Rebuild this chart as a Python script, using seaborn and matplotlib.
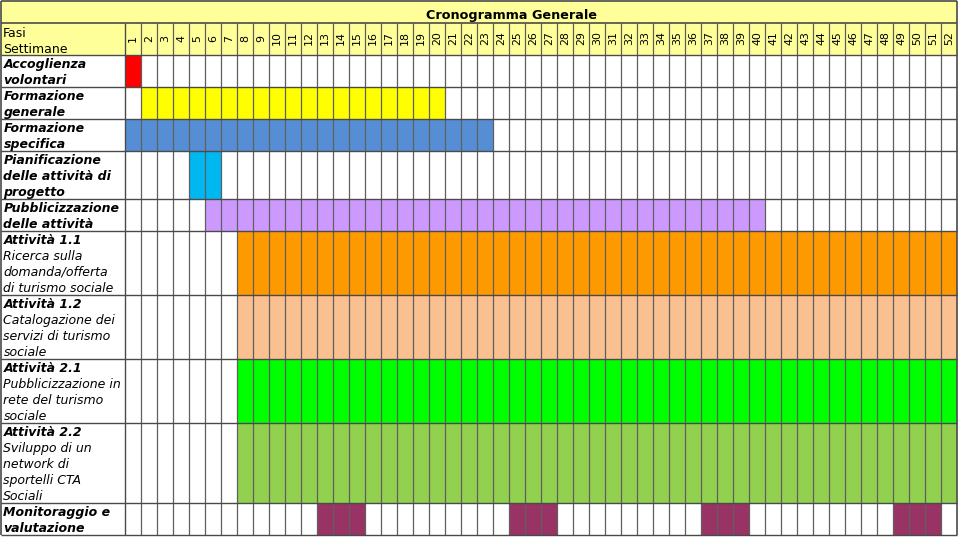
import numpy as np
import matplotlib.pyplot as plt
import seaborn as sns
from matplotlib.colors import ListedColormap
from matplotlib.patches import Rectangle

# ------------------------------------------------------------
# DATA
# ------------------------------------------------------------
chart_title = "Cronogramma Generale"
header_label = ["Fasi", "Settimane"]
weeks = list(range(1, 53))

task_titles = [
    "Accoglienza\nvolontari",
    "Formazione\ngenerale",
    "Formazione\nspecifica",
    "Pianificazione\ndelle attività di\nprogetto",
    "Pubblicizzazione\ndelle attività",
    "Attività 1.1",
    "Attività 1.2",
    "Attività 2.1",
    "Attività 2.2",
    "Monitoraggio e\nvalutazione",
]
task_notes = [
    "", "", "", "", "",
    "Ricerca sulla\ndomanda/offerta\ndi turismo sociale",
    "Catalogazione dei\nservizi di turismo\nsociale",
    "Pubblicizzazione in\nrete del turismo\nsociale",
    "Sviluppo di un\nnetwork di\nsportelli CTA\nSociali",
    "",
]
# (first week, last week) of each active stretch
task_spans = [
    [(1, 1)],
    [(2, 20)],
    [(1, 23)],
    [(5, 6)],
    [(6, 40)],
    [(8, 52)],
    [(8, 52)],
    [(8, 52)],
    [(8, 52)],
    [(13, 15), (25, 27), (37, 39), (49, 51)],
]
task_colors = [
    "#FF0000", "#FFFF00", "#558ED5", "#00B8F0", "#CC99FF",
    "#FF9900", "#FAC090", "#00FF00", "#92D050", "#993366",
]

# ------------------------------------------------------------
# BUILD MATRIX (one matrix row per text line of the label column)
# ------------------------------------------------------------
line_counts = []
for t, n in zip(task_titles, task_notes):
    line_counts.append(len(t.split("\n")) + (len(n.split("\n")) if n else 0))
n_lines = sum(line_counts)

matrix = np.zeros((n_lines, len(weeks)))
row = 0
for k, (spans, nl) in enumerate(zip(task_spans, line_counts)):
    for a, b in spans:
        matrix[row:row + nl, a - 1:b] = k + 1
    row += nl

cmap = ListedColormap(["white"] + task_colors)

# ------------------------------------------------------------
# PLOT
# ------------------------------------------------------------
W, H = 960, 538
cell = 16.0
grid_left, grid_top = 125, 55

fig = plt.figure(figsize=(W / 100, H / 100), dpi=100)
ax = fig.add_axes([grid_left / W, (H - grid_top - n_lines * cell) / H,
                   len(weeks) * cell / W, n_lines * cell / H])

sns.heatmap(matrix, ax=ax, cmap=cmap, vmin=-0.5, vmax=len(task_colors) + 0.5,
            cbar=False, xticklabels=False, yticklabels=False, linewidths=0)

x_left = (1 - grid_left) / cell
y_top = (1 - grid_top) / cell
nw = len(weeks)
edge = "#4a4a4a"

# yellow title + header band
ax.add_patch(Rectangle((x_left, y_top), nw - x_left, -y_top, facecolor="#FFFF99",
                       edgecolor="none", clip_on=False, zorder=0.5))

# grid lines
ax.vlines(np.arange(1, nw), -2, n_lines, colors="#5f5f5f", lw=0.9, clip_on=False)
ax.vlines([0], -2, n_lines, colors=edge, lw=1.0, clip_on=False)
ax.vlines([x_left, nw], y_top, n_lines, colors=edge, lw=1.2, clip_on=False)
bounds = np.concatenate([[0], np.cumsum(line_counts)])
ax.hlines(bounds, x_left, nw, colors=edge, lw=1.0, clip_on=False)
ax.hlines([y_top, -2], x_left, nw, colors=edge, lw=1.2, clip_on=False)

# week numbers as top tick labels
ax.xaxis.tick_top()
ax.set_xticks(np.arange(nw) + 0.5)
ax.set_xticklabels(weeks, rotation=90, fontsize=7.9)
for lbl in ax.get_xticklabels():
    lbl.set_va("center")
ax.tick_params(axis="x", length=0, pad=12)

# title
ax.text((511 - grid_left) / cell, (19.5 - grid_top) / cell, chart_title,
        ha="center", va="baseline", fontsize=9.2, fontweight="bold", clip_on=False)

# header label
for i, s in enumerate(header_label):
    ax.text(x_left + 0.12, -1.1 + i * 0.95, s, ha="left", va="baseline",
            fontsize=9.0, clip_on=False)

# task labels
tx = x_left + 0.15
for k, (t, n) in enumerate(zip(task_titles, task_notes)):
    y0 = bounds[k]
    lines = [(s, "bold") for s in t.split("\n")]
    if n:
        lines += [(s, "normal") for s in n.split("\n")]
    for i, (s, w) in enumerate(lines):
        ax.text(tx, y0 + i + 0.8, s, ha="left", va="baseline", fontsize=9.0,
                fontweight=w, fontstyle="italic", clip_on=False)

fig.savefig("out.png", dpi=100)
